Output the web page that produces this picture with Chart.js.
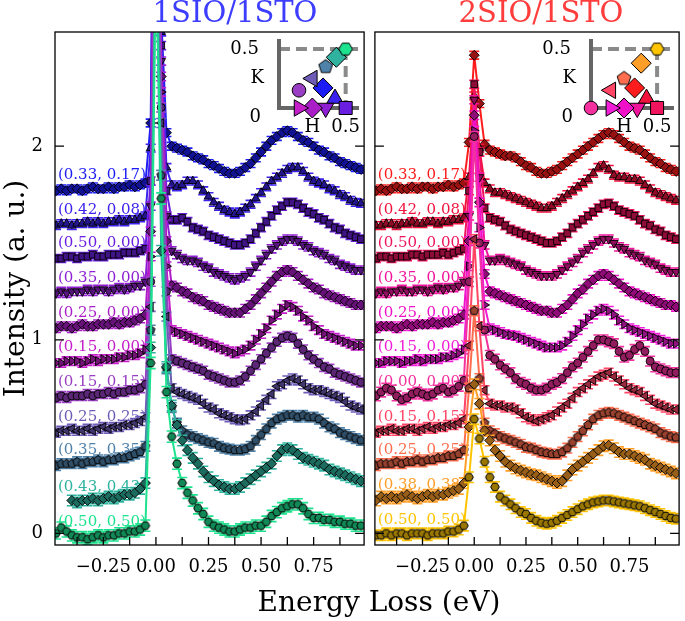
<!DOCTYPE html>
<html>
<head>
<meta charset="utf-8">
<script src="https://cdn.jsdelivr.net/npm/chart.js@4.4.0/dist/chart.umd.min.js"></script>
<style>
  body { margin: 0; background: #fff; }
  #wrap { position: relative; width: 685px; height: 621px; overflow: hidden; }
  canvas { position: absolute; }
  .txt { position: absolute; white-space: nowrap; font-family: "DejaVu Serif", serif; transform: translateX(-50%); }
</style>
</head>
<body>
<div id="wrap">
  <canvas id="left" width="370" height="621" style="left:0;top:0"></canvas>
  <canvas id="right" width="316" height="621" style="left:369px;top:0"></canvas>
  <canvas id="insetL" width="145" height="112" style="left:225px;top:28px"></canvas>
  <canvas id="insetR" width="150" height="112" style="left:535px;top:28px"></canvas>
  <div class="txt" style="left:235px;top:-2px;font-size:29px;line-height:29px;color:#3d3dff">1SIO/1STO</div>
  <div class="txt" style="left:541px;top:-2px;font-size:29px;line-height:29px;color:#ff3d3d">2SIO/1STO</div>
  <div class="txt" style="left:379px;top:588px;font-size:28px;line-height:28px;color:#000">Energy Loss (eV)</div>
</div>
<script>
// energy grid (eV)
const energy = [-0.475,-0.45,-0.425,-0.4,-0.375,-0.35,-0.325,-0.3,-0.275,-0.25,-0.225,-0.2,-0.175,-0.15,-0.125,-0.1,-0.075,-0.05,-0.025,0,0.025,0.05,0.075,0.1,0.125,0.15,0.175,0.2,0.225,0.25,0.275,0.3,0.325,0.35,0.375,0.4,0.425,0.45,0.475,0.5,0.525,0.55,0.575,0.6,0.625,0.65,0.675,0.7,0.725,0.75,0.775,0.8,0.825,0.85,0.875,0.9,0.925,0.95,0.975];

// momentum points (H, K), top spectrum first
const leftH = [0.33,0.42,0.50,0.35,0.25,0.15,0.15,0.25,0.35,0.43,0.50];
const leftK = [0.17,0.08,0.00,0.00,0.00,0.00,0.15,0.25,0.35,0.43,0.50];
const rightH = [0.33,0.42,0.50,0.35,0.25,0.15,0.00,0.15,0.25,0.38,0.50];
const rightK = [0.17,0.08,0.00,0.00,0.00,0.00,0.00,0.15,0.25,0.38,0.50];

// vertical offsets of the stacked spectra
const leftOffsets = [1.77,1.59,1.42,1.24,1.06,0.88,0.70,0.52,0.35,0.16,-0.02];
const rightOffsets = [1.77,1.59,1.42,1.24,1.06,0.88,0.70,0.52,0.35,0.17,-0.01];

// error bar half widths
const leftErr = [0.02,0.02,0.021,0.021,0.022,0.022,0.023,0.023,0.025,0.027,0.029];
const rightErr = [0.02,0.02,0.021,0.021,0.022,0.022,0.025,0.023,0.025,0.027,0.027];

// 1SIO/1STO spectra
const l_033_017 = [0.00,0.01,0.00,0.01,0.01,0.00,0.01,0.02,0.01,0.01,0.02,0.01,0.02,0.02,0.03,0.02,0.03,0.04,0.35,3.0,0.9,0.30,0.23,0.22,0.21,0.20,0.18,0.17,0.16,0.14,0.13,0.115,0.10,0.09,0.09,0.10,0.12,0.14,0.17,0.20,0.23,0.26,0.28,0.30,0.31,0.30,0.28,0.26,0.25,0.23,0.21,0.20,0.18,0.17,0.15,0.14,0.13,0.12,0.11];
const l_042_008 = [0.00,0.01,0.01,0.00,0.01,0.01,0.02,0.01,0.02,0.01,0.02,0.02,0.03,0.02,0.03,0.03,0.04,0.05,0.40,3.0,1.0,0.30,0.21,0.20,0.21,0.23,0.23,0.21,0.18,0.15,0.12,0.10,0.08,0.07,0.06,0.07,0.09,0.11,0.14,0.17,0.20,0.23,0.25,0.27,0.29,0.30,0.30,0.28,0.25,0.23,0.22,0.21,0.19,0.18,0.16,0.15,0.13,0.12,0.115];
const l_050_000 = [0.00,0.00,0.01,0.01,0.00,0.01,0.01,0.02,0.01,0.01,0.02,0.02,0.02,0.03,0.03,0.03,0.04,0.05,0.40,3.0,1.1,0.35,0.20,0.20,0.21,0.19,0.16,0.15,0.14,0.12,0.11,0.10,0.09,0.08,0.07,0.07,0.08,0.10,0.13,0.16,0.19,0.22,0.25,0.27,0.29,0.29,0.28,0.26,0.24,0.23,0.21,0.20,0.18,0.16,0.15,0.13,0.12,0.11,0.10];
const l_035_000 = [0.00,0.01,0.00,0.01,0.01,0.01,0.02,0.01,0.02,0.02,0.01,0.02,0.03,0.02,0.03,0.04,0.04,0.06,0.45,3.0,1.2,0.40,0.22,0.20,0.18,0.17,0.17,0.16,0.14,0.13,0.11,0.10,0.09,0.08,0.07,0.08,0.09,0.11,0.14,0.17,0.20,0.23,0.25,0.27,0.28,0.28,0.27,0.25,0.24,0.22,0.21,0.20,0.18,0.17,0.15,0.14,0.13,0.12,0.12];
const l_025_000 = [0.00,0.01,0.01,0.00,0.01,0.02,0.01,0.01,0.02,0.02,0.02,0.03,0.02,0.03,0.03,0.04,0.05,0.07,0.50,3.0,1.3,0.45,0.22,0.21,0.19,0.18,0.16,0.15,0.14,0.12,0.11,0.10,0.09,0.08,0.08,0.08,0.10,0.12,0.15,0.18,0.21,0.24,0.27,0.29,0.30,0.29,0.27,0.25,0.23,0.21,0.20,0.18,0.17,0.16,0.15,0.14,0.13,0.12,0.12];
const l_015_000 = [0.00,0.00,0.01,0.01,0.01,0.00,0.01,0.02,0.01,0.02,0.02,0.02,0.03,0.03,0.04,0.04,0.05,0.07,0.55,3.0,1.4,0.50,0.17,0.16,0.15,0.14,0.13,0.12,0.11,0.10,0.09,0.08,0.07,0.06,0.05,0.06,0.07,0.09,0.12,0.15,0.18,0.22,0.25,0.28,0.30,0.29,0.27,0.24,0.22,0.19,0.17,0.15,0.14,0.13,0.12,0.11,0.10,0.09,0.09];
const l_015_015 = [0.00,0.01,0.00,0.01,0.01,0.01,0.02,0.01,0.02,0.02,0.03,0.02,0.03,0.03,0.04,0.04,0.05,0.07,0.60,3.0,1.5,0.55,0.20,0.19,0.18,0.17,0.16,0.15,0.14,0.12,0.11,0.10,0.09,0.08,0.08,0.09,0.11,0.14,0.17,0.20,0.23,0.26,0.29,0.31,0.32,0.31,0.28,0.25,0.22,0.20,0.18,0.16,0.15,0.13,0.12,0.11,0.10,0.09,0.08];
const l_025_025 = [0.00,0.01,0.01,0.02,0.01,0.01,0.02,0.01,0.02,0.03,0.02,0.03,0.03,0.04,0.04,0.05,0.06,0.08,0.65,3.0,1.6,0.60,0.23,0.21,0.20,0.19,0.18,0.17,0.15,0.13,0.12,0.10,0.09,0.08,0.07,0.065,0.07,0.09,0.11,0.14,0.17,0.20,0.24,0.25,0.27,0.28,0.27,0.25,0.23,0.22,0.22,0.21,0.20,0.19,0.18,0.16,0.14,0.13,0.12];
const l_035_035 = [0.00,0.01,0.01,0.01,0.02,0.01,0.02,0.02,0.03,0.02,0.03,0.03,0.04,0.04,0.05,0.06,0.07,0.10,0.70,3.0,1.5,0.50,0.30,0.22,0.18,0.16,0.15,0.14,0.13,0.12,0.115,0.10,0.09,0.085,0.08,0.08,0.085,0.10,0.13,0.16,0.19,0.22,0.24,0.25,0.26,0.26,0.25,0.26,0.25,0.25,0.24,0.22,0.20,0.19,0.17,0.16,0.15,0.14,0.13];
const l_043_043 = [null,null,null,0.01,0.00,0.01,0.01,0.02,0.01,0.02,0.03,0.02,0.03,0.04,0.04,0.05,0.07,0.10,0.80,3.0,1.3,0.70,0.50,0.40,0.32,0.27,0.23,0.20,0.16,0.13,0.11,0.09,0.08,0.07,0.07,0.08,0.10,0.12,0.14,0.16,0.18,0.20,0.24,0.27,0.28,0.27,0.25,0.23,0.22,0.21,0.20,0.19,0.17,0.16,0.15,0.14,0.13,0.12,0.11];
const l_050_050 = [0.02,0.05,0.03,0.01,0.00,0.00,-0.01,0.00,0.01,0.00,0.01,0.01,0.02,0.02,0.03,0.03,0.04,0.06,0.90,3.0,1.75,0.75,0.52,0.38,0.28,0.23,0.19,0.15,0.12,0.08,0.06,0.05,0.04,0.03,0.03,0.04,0.05,0.05,0.06,0.06,0.08,0.11,0.13,0.15,0.16,0.17,0.17,0.15,0.12,0.10,0.10,0.09,0.09,0.08,0.08,0.07,0.07,0.06,0.06];

// 2SIO/1STO spectra
const r_033_017 = [0.00,0.01,0.00,0.01,0.02,0.01,0.01,0.02,0.01,0.02,0.02,0.01,0.02,0.02,0.03,0.02,0.03,0.04,0.25,0.70,0.45,0.24,0.21,0.20,0.19,0.18,0.18,0.17,0.15,0.13,0.12,0.10,0.09,0.09,0.10,0.11,0.13,0.15,0.17,0.19,0.21,0.23,0.25,0.27,0.29,0.30,0.29,0.27,0.25,0.23,0.22,0.21,0.19,0.17,0.15,0.14,0.12,0.11,0.10];
const r_042_008 = [0.00,0.00,0.01,0.01,0.00,0.01,0.01,0.02,0.01,0.01,0.02,0.02,0.01,0.02,0.02,0.03,0.03,0.04,0.25,0.67,0.40,0.22,0.19,0.17,0.17,0.16,0.15,0.14,0.13,0.12,0.11,0.10,0.09,0.09,0.10,0.12,0.14,0.16,0.18,0.20,0.22,0.24,0.27,0.30,0.31,0.29,0.26,0.25,0.25,0.24,0.24,0.23,0.21,0.19,0.17,0.16,0.15,0.14,0.13];
const r_050_000 = [0.00,0.01,0.01,0.00,0.01,0.01,0.01,0.02,0.02,0.01,0.02,0.02,0.02,0.03,0.02,0.03,0.04,0.05,0.35,0.90,0.55,0.26,0.21,0.20,0.19,0.17,0.15,0.14,0.13,0.12,0.11,0.10,0.09,0.08,0.08,0.09,0.11,0.13,0.16,0.18,0.20,0.22,0.24,0.26,0.28,0.285,0.27,0.25,0.24,0.23,0.22,0.20,0.18,0.17,0.15,0.14,0.12,0.11,0.10];
const r_035_000 = [0.00,0.01,0.00,0.01,0.01,0.02,0.01,0.01,0.02,0.02,0.01,0.02,0.03,0.02,0.03,0.03,0.04,0.06,0.40,1.00,0.60,0.25,0.17,0.17,0.18,0.17,0.16,0.15,0.14,0.12,0.11,0.10,0.09,0.09,0.09,0.10,0.12,0.14,0.16,0.18,0.21,0.23,0.25,0.27,0.28,0.28,0.26,0.24,0.23,0.21,0.20,0.19,0.17,0.16,0.15,0.13,0.12,0.11,0.11];
const r_025_000 = [0.00,0.01,0.01,0.01,0.00,0.01,0.02,0.01,0.02,0.02,0.02,0.03,0.02,0.03,0.03,0.04,0.05,0.07,0.45,1.10,0.65,0.28,0.19,0.18,0.17,0.16,0.15,0.14,0.13,0.12,0.11,0.10,0.09,0.09,0.08,0.08,0.10,0.12,0.15,0.18,0.20,0.23,0.25,0.27,0.28,0.27,0.25,0.23,0.21,0.19,0.18,0.17,0.16,0.15,0.14,0.13,0.12,0.12,0.11];
const r_015_000 = [0.00,0.00,0.01,0.01,0.01,0.00,0.01,0.01,0.02,0.01,0.02,0.02,0.02,0.03,0.03,0.04,0.05,0.07,0.50,1.20,0.70,0.30,0.18,0.17,0.16,0.15,0.145,0.14,0.13,0.12,0.11,0.10,0.09,0.08,0.08,0.08,0.09,0.11,0.14,0.17,0.20,0.23,0.25,0.27,0.28,0.27,0.25,0.22,0.20,0.18,0.17,0.16,0.15,0.14,0.13,0.12,0.11,0.10,0.10];
const r_000_000 = [0.01,0.03,0.05,0.04,0.01,-0.01,0.00,0.02,0.03,0.02,0.01,0.02,0.04,0.05,0.03,0.04,0.06,0.09,0.60,1.35,0.80,0.35,0.22,0.20,0.17,0.15,0.13,0.10,0.08,0.07,0.05,0.04,0.04,0.05,0.07,0.08,0.10,0.13,0.16,0.18,0.21,0.24,0.27,0.30,0.30,0.29,0.28,0.24,0.21,0.22,0.25,0.27,0.24,0.19,0.16,0.15,0.14,0.13,0.13];
const r_015_015 = [0.00,0.01,0.01,0.02,0.01,0.01,0.02,0.02,0.01,0.02,0.03,0.02,0.03,0.03,0.04,0.04,0.05,0.07,0.45,1.00,0.55,0.22,0.15,0.14,0.14,0.13,0.13,0.12,0.10,0.08,0.07,0.06,0.07,0.08,0.09,0.11,0.13,0.15,0.18,0.21,0.23,0.25,0.27,0.29,0.30,0.31,0.29,0.27,0.25,0.23,0.22,0.21,0.19,0.17,0.15,0.14,0.13,0.12,0.12];
const r_025_025 = [0.00,0.01,0.01,0.01,0.02,0.01,0.02,0.02,0.03,0.02,0.03,0.03,0.04,0.04,0.05,0.05,0.06,0.08,0.40,0.80,0.45,0.22,0.18,0.165,0.15,0.14,0.13,0.12,0.11,0.095,0.09,0.08,0.07,0.065,0.06,0.06,0.07,0.09,0.12,0.15,0.18,0.21,0.24,0.26,0.27,0.275,0.27,0.26,0.25,0.24,0.23,0.22,0.21,0.20,0.19,0.17,0.16,0.15,0.145];
const r_038_038 = [0.00,0.02,0.01,0.02,0.01,0.02,0.03,0.02,0.01,0.02,0.03,0.02,0.03,0.03,0.04,0.05,0.06,0.09,0.38,0.60,0.50,0.36,0.31,0.26,0.23,0.20,0.18,0.165,0.155,0.145,0.135,0.13,0.12,0.11,0.10,0.09,0.10,0.13,0.16,0.18,0.20,0.22,0.24,0.26,0.28,0.285,0.27,0.25,0.24,0.24,0.23,0.22,0.21,0.19,0.18,0.17,0.16,0.15,0.14];
const r_050_050 = [0.00,0.00,0.01,0.00,0.01,0.01,0.00,0.01,0.01,0.01,0.00,0.01,0.01,0.01,0.02,0.02,0.03,0.05,0.30,0.60,0.50,0.38,0.30,0.25,0.20,0.18,0.16,0.14,0.12,0.11,0.09,0.075,0.065,0.06,0.065,0.075,0.09,0.105,0.12,0.135,0.15,0.16,0.17,0.175,0.18,0.18,0.175,0.17,0.165,0.16,0.155,0.15,0.14,0.13,0.12,0.11,0.10,0.09,0.086];

const leftSpectra = [l_033_017, l_042_008, l_050_000, l_035_000, l_025_000, l_015_000, l_015_015, l_025_025, l_035_035, l_043_043, l_050_050];
const rightSpectra = [r_033_017, r_042_008, r_050_000, r_035_000, r_025_000, r_015_000, r_000_000, r_015_015, r_025_025, r_038_038, r_050_050];

// axis ticks
const energyTicks = [-0.375,-0.25,-0.125,0,0.125,0.25,0.375,0.5,0.625,0.75,0.875];
const energyLabels = [-0.25,0,0.25,0.5,0.75];
const intensityTicks = [0,1,2];
const zoneEdge = 0.5;

// styles
const leftColors = ['#1c1cf5','#3b22ee','#6a1fe0','#8f1fd2','#aa1ec8','#c31ec8','#9a3fc4','#6e5cb6','#4f82ab','#2fb39f','#1de38f'];
const rightColors = ['#ff1c1c','#f2123e','#f0145e','#f0149c','#f012c8','#f01ed6','#f2309e','#ff4565','#ff6d4e','#ff9f2a','#ffc400'];
const markerShapes = ['rectRot','triangle','rect','triDown','rectRot','triRight','circle','triLeft','pentagon','rectRot','hexagon'];
const mainSize = { circle: 4, rectRot: 5, triangle: 5, triDown: 5, triLeft: 5, triRight: 5, rect: 4.8, pentagon: 4.5, hexagon: 4.3 };
const insetSize = { circle: 6.8, rectRot: 10, triangle: 9.5, triDown: 9.5, triLeft: 9.5, triRight: 9.5, rect: 9.2, pentagon: 7.2, hexagon: 6.8 };
const FONT = '"DejaVu Serif", serif';

Chart.defaults.font.family = FONT;
Chart.defaults.color = '#000';

// darker fill for the dense data markers
function shade(hex, f) {
    const n = parseInt(hex.slice(1), 16);
    const r = Math.round(((n >> 16) & 255) * f), g = Math.round(((n >> 8) & 255) * f), b = Math.round((n & 255) * f);
    return `rgb(${r},${g},${b})`;
}

// small canvas for polygon markers (pentagon, hexagon)
function polyMarker(n, r, color, rot) {
    const s = Math.ceil(2 * r + 3);
    const c = document.createElement('canvas');
    c.width = s; c.height = s;
    const g = c.getContext('2d');
    g.beginPath();
    for (let k = 0; k < n; k++) {
        const a = rot + k * 2 * Math.PI / n;
        const px = s / 2 + r * Math.cos(a), py = s / 2 + r * Math.sin(a);
        if (k === 0) g.moveTo(px, py); else g.lineTo(px, py);
    }
    g.closePath();
    g.fillStyle = color; g.fill();
    g.lineWidth = 1; g.strokeStyle = '#000'; g.stroke();
    return c;
}

function markerFor(shape, color, sizes) {
    const r = sizes[shape];
    switch (shape) {
        case 'triDown': return { style: 'triangle', rot: 180, r };
        case 'triRight': return { style: 'triangle', rot: 90, r };
        case 'triLeft': return { style: 'triangle', rot: -90, r };
        case 'pentagon': return { style: polyMarker(5, r, color, -Math.PI / 2), rot: 0, r };
        case 'hexagon': return { style: polyMarker(6, r, color, 0), rot: 0, r };
        default: return { style: shape, rot: 0, r };
    }
}

// error bars drawn under each dataset
const errorCaps = {
    id: 'errorCaps',
    beforeDatasetDraw(chart, args) {
        const ds = chart.data.datasets[args.index];
        const { ctx, chartArea: a, scales: { y } } = chart;
        ctx.save();
        ctx.beginPath();
        ctx.rect(a.left, a.top, a.right - a.left, a.bottom - a.top);
        ctx.clip();
        ctx.strokeStyle = ds.borderColor;
        ctx.lineWidth = 1.6;
        ctx.beginPath();
        args.meta.data.forEach((pt, j) => {
            const v = ds.data[j].y;
            if (v == null) return;
            const top = y.getPixelForValue(v + ds.err), bot = y.getPixelForValue(v - ds.err);
            ctx.moveTo(pt.x - 5, top); ctx.lineTo(pt.x + 5, top);
            ctx.moveTo(pt.x - 5, bot); ctx.lineTo(pt.x + 5, bot);
            ctx.moveTo(pt.x, top); ctx.lineTo(pt.x, bot);
        });
        ctx.stroke();
        ctx.restore();
    }
};

// box and inward ticks
const frameTicks = {
    id: 'frameTicks',
    afterDraw(chart) {
        const { ctx, chartArea: a, scales: { x, y } } = chart;
        ctx.save();
        ctx.strokeStyle = '#000';
        ctx.lineWidth = 1.3;
        ctx.strokeRect(a.left, a.top, a.right - a.left, a.bottom - a.top);
        ctx.beginPath();
        energyTicks.forEach(v => {
            const px = x.getPixelForValue(v);
            ctx.moveTo(px, a.bottom); ctx.lineTo(px, a.bottom - 8);
        });
        intensityTicks.forEach(v => {
            const py = y.getPixelForValue(v);
            ctx.moveTo(a.left, py); ctx.lineTo(a.left + 9, py);
            ctx.moveTo(a.right, py); ctx.lineTo(a.right - 9, py);
        });
        ctx.stroke();
        ctx.restore();
    }
};

// (H, K) labels next to each spectrum
function makeLabels(H, K, colors, offsets) {
    return {
        id: 'qLabels',
        beforeDatasetsDraw(chart) {
            const { ctx, scales: { x, y } } = chart;
            ctx.save();
            ctx.font = '15px ' + FONT;
            ctx.textBaseline = 'middle';
            ctx.textAlign = 'left';
            H.forEach((h, i) => {
                ctx.fillStyle = colors[i];
                ctx.fillText(`(${h.toFixed(2)}, ${K[i].toFixed(2)})`, x.getPixelForValue(-0.466), y.getPixelForValue(offsets[i] + 0.08));
            });
            ctx.restore();
        }
    };
}

function buildDatasets(spectra, offsets, colors, errs) {
    return spectra.map((vals, i) => {
        const fill = shade(colors[i], 0.6);
        const m = markerFor(markerShapes[i], fill, mainSize);
        return {
            data: energy.map((e, j) => ({ x: e, y: vals[j] == null ? null : vals[j] + offsets[i] })),
            borderColor: colors[i],
            backgroundColor: colors[i],
            borderWidth: 2,
            pointStyle: m.style,
            pointRotation: m.rot,
            pointRadius: m.r,
            pointBackgroundColor: fill,
            pointBorderColor: '#000',
            pointBorderWidth: 0.9,
            err: errs[i],
            order: spectra.length - 1 - i,
            clip: 0
        };
    });
}

function spectraChart(id, spectra, offsets, colors, errs, H, K, isLeft) {
    return new Chart(document.getElementById(id), {
        type: 'line',
        data: { datasets: buildDatasets(spectra, offsets, colors, errs) },
        options: {
            responsive: false,
            animation: false,
            events: [],
            layout: { padding: { left: 0, right: 1, top: 32, bottom: 0 } },
            scales: {
                x: {
                    type: 'linear', min: -0.48, max: 0.99,
                    grid: { display: false, drawTicks: false },
                    border: { display: false },
                    afterBuildTicks: s => { s.ticks = energyLabels.map(v => ({ value: v })); },
                    afterFit: s => { s.height = 76; },
                    ticks: {
                        padding: 12, maxRotation: 0, autoSkip: false, color: '#000',
                        font: { size: 18 },
                        callback: v => (v < 0 ? '\u2212' : '') + Math.abs(v).toFixed(2)
                    }
                },
                y: {
                    display: isLeft, min: -0.06, max: 2.59,
                    grid: { display: false, drawTicks: false },
                    border: { display: false },
                    afterBuildTicks: s => { s.ticks = intensityTicks.map(v => ({ value: v })); },
                    afterFit: s => { s.width = isLeft ? 55 : 0; },
                    ticks: { padding: 12, color: '#000', font: { size: 18 }, callback: v => String(v) },
                    title: { display: true, text: 'Intensity (a. u.)', color: '#000', font: { size: 28 }, padding: 0 }
                }
            },
            plugins: { legend: { display: false }, tooltip: { enabled: false } }
        },
        plugins: [errorCaps, makeLabels(H, K, colors, offsets), frameTicks]
    });
}

// Brillouin-zone inset frame and labels
const bzFrame = {
    id: 'bzFrame',
    beforeDatasetsDraw(chart) {
        const { ctx, chartArea: a, scales: { x, y } } = chart;
        const x0 = x.getPixelForValue(0), y0 = y.getPixelForValue(0);
        const xe = x.getPixelForValue(zoneEdge), ye = y.getPixelForValue(zoneEdge);
        ctx.save();
        ctx.lineWidth = 4;
        ctx.strokeStyle = '#8a8a8a';
        ctx.setLineDash([11, 6]);
        ctx.beginPath();
        ctx.moveTo(x0, ye); ctx.lineTo(a.right, ye);
        ctx.moveTo(xe, ye); ctx.lineTo(xe, y0);
        ctx.stroke();
        ctx.setLineDash([]);
        ctx.strokeStyle = '#666';
        ctx.beginPath();
        ctx.moveTo(x0, a.top); ctx.lineTo(x0, y0); ctx.lineTo(a.right, y0);
        ctx.stroke();
        ctx.fillStyle = '#000';
        ctx.font = '18px ' + FONT;
        ctx.textAlign = 'right';
        ctx.textBaseline = 'middle';
        ctx.fillText('0.5', x0 - 20, ye);
        ctx.fillText('K', x0 - 15, y.getPixelForValue(0.25));
        ctx.fillText('0', x0 - 18, y0 + 9);
        ctx.textAlign = 'center';
        ctx.fillText('H', x.getPixelForValue(0.25), y0 + 19);
        ctx.fillText('0.5', xe, y0 + 19);
        ctx.restore();
    }
};

function insetChart(id, H, K, colors, padLeft, hMax) {
    const marks = markerShapes.map((s, i) => markerFor(s, colors[i], insetSize));
    return new Chart(document.getElementById(id), {
        type: 'scatter',
        data: {
            datasets: [{
                data: H.map((h, i) => ({ x: h, y: K[i] })),
                pointStyle: marks.map(m => m.style),
                pointRotation: marks.map(m => m.rot),
                pointRadius: marks.map(m => m.r),
                backgroundColor: colors,
                borderColor: '#000',
                borderWidth: 1,
                clip: false
            }]
        },
        options: {
            responsive: false,
            animation: false,
            events: [],
            layout: { padding: { left: padLeft, top: 4, right: 1, bottom: 32 } },
            scales: {
                x: { display: false, min: 0, max: hMax },
                y: { display: false, min: 0, max: 0.585 }
            },
            plugins: { legend: { display: false }, tooltip: { enabled: false } }
        },
        plugins: [bzFrame]
    });
}

spectraChart('left', leftSpectra, leftOffsets, leftColors, leftErr, leftH, leftK, true);
spectraChart('right', rightSpectra, rightOffsets, rightColors, rightErr, rightH, rightK, false);
insetChart('insetL', leftH, leftK, leftColors, 54, 0.6);
insetChart('insetR', rightH, rightK, rightColors, 56, 0.628);
</script>
</body>
</html>
